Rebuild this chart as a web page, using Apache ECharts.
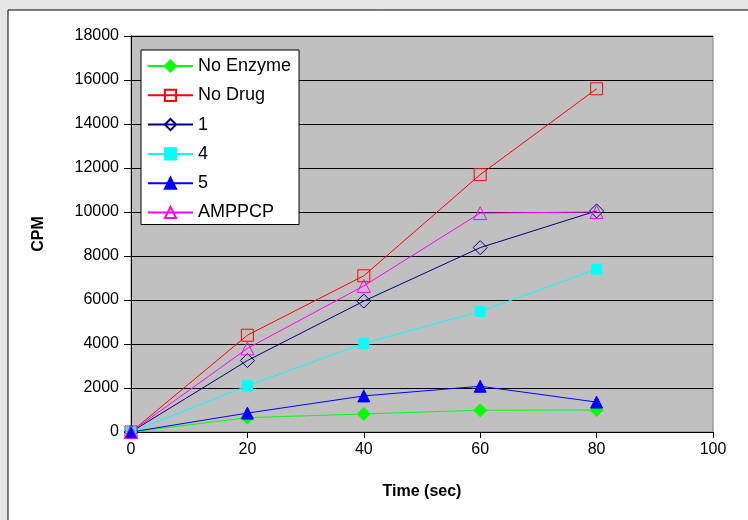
<!DOCTYPE html>
<html>
<head>
<meta charset="utf-8">
<script src="https://cdn.jsdelivr.net/npm/echarts@6/dist/echarts.min.js"></script>
<style>
  html, body { margin: 0; padding: 0; background: #e6e6e6; }
  #chart { width: 748px; height: 520px; }
</style>
</head>
<body>
<div id="chart"></div>
<script>
// time points (sec)
var tempos = [0, 20, 40, 60, 80];

var noEnzyme = [0, 650, 820, 990, 1000];
var noDrug = [0, 4400, 7100, 11700, 15600];
var comp1 = [0, 3250, 5950, 8380, 10050];
var comp4 = [0, 2100, 4030, 5480, 7400];
var comp5 = [0, 860, 1640, 2080, 1360];
var amppcp = [0, 3800, 6640, 9950, 10000];

function pares(valores) {
    var out = [];
    for (var i = 0; i < tempos.length; i++) {
        out.push([tempos[i], valores[i]]);
    }
    return out;
}

function serie(nome, valores, cor, simbolo, tamanho, cheio) {
    return {
        name: nome,
        type: 'line',
        data: pares(valores),
        symbol: simbolo,
        symbolSize: tamanho,
        showAllSymbol: true,
        lineStyle: { color: cor, width: 1 },
        itemStyle: {
            color: cheio ? cor : 'none',
            borderColor: cor,
            borderWidth: 1
        },
        emphasis: { disabled: true },
        animation: false
    };
}

var chart = echarts.init(document.getElementById('chart'));
chart.setOption({
    backgroundColor: '#e6e6e6',
    textStyle: { fontFamily: 'Liberation Sans, Arial, sans-serif' },
    graphic: [{
        type: 'rect',
        z: -10,
        shape: { x: 8, y: 10, width: 745, height: 515 },
        style: { fill: '#ffffff', stroke: '#000000', lineWidth: 1 }
    }],
    grid: {
        left: 131,
        top: 36,
        right: 35,
        bottom: 88,
        show: true,
        backgroundColor: '#c0c0c0',
        borderColor: '#808080',
        borderWidth: 1
    },
    legend: {
        orient: 'vertical',
        left: 141,
        top: 50,
        backgroundColor: '#ffffff',
        borderColor: '#000000',
        borderWidth: 1,
        borderRadius: 0,
        padding: [7, 8, 3, 6],
        itemGap: 11.3,
        itemWidth: 45,
        itemHeight: 14,
        textStyle: { fontSize: 18, color: '#000000' },
        data: ['No Enzyme', 'No Drug', '1', '4', '5', 'AMPPCP']
    },
    xAxis: {
        type: 'value',
        min: 0,
        max: 100,
        interval: 20,
        name: 'Time (sec)',
        nameLocation: 'middle',
        nameGap: 52,
        nameTextStyle: { fontSize: 16, fontWeight: 'bold', color: '#000' },
        axisLine: { lineStyle: { color: '#000', width: 1 } },
        axisTick: { length: 6, lineStyle: { color: '#000' } },
        axisLabel: { fontSize: 16, color: '#000', margin: 10 },
        splitLine: { show: false }
    },
    yAxis: {
        type: 'value',
        min: 0,
        max: 18000,
        interval: 2000,
        name: 'CPM',
        nameLocation: 'middle',
        nameGap: 84,
        nameRotate: 90,
        nameTextStyle: { fontSize: 16, fontWeight: 'bold', color: '#000' },
        axisLine: { show: true, lineStyle: { color: '#000', width: 1 } },
        axisTick: { show: true, length: 7, lineStyle: { color: '#000' } },
        axisLabel: {
            fontSize: 16,
            color: '#000',
            margin: 12,
            formatter: function (v) { return String(v); }
        },
        splitLine: { show: true, lineStyle: { color: '#000', width: 1 } }
    },
    series: [
        serie('No Enzyme', noEnzyme, '#00ff00', 'diamond', 13, true),
        serie('No Drug', noDrug, '#ff0000', 'rect', 12, false),
        serie('1', comp1, '#000080', 'diamond', 14, false),
        serie('4', comp4, '#00ffff', 'rect', 10, true),
        serie('5', comp5, '#0000ff', 'triangle', 12, true),
        serie('AMPPCP', amppcp, '#ff00ff', 'triangle', 13, false)
    ]
});
</script>
</body>
</html>
